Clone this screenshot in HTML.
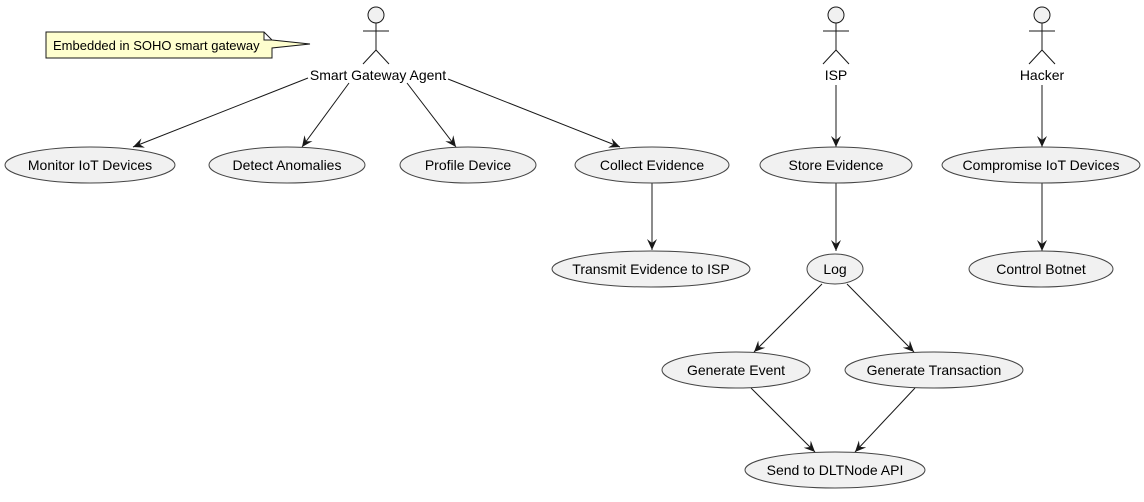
<!DOCTYPE html>
<html><head><meta charset="utf-8"><style>
html,body{margin:0;padding:0;background:#fff;}
text{font-family:"Liberation Sans",sans-serif;font-size:14px;fill:#000;}
</style></head><body>
<svg width="1144" height="497" viewBox="0 0 1144 497" xmlns="http://www.w3.org/2000/svg">
<defs>
<marker id="a" viewBox="0 0 12 10" refX="11" refY="5" markerWidth="12" markerHeight="10" markerUnits="userSpaceOnUse" orient="auto">
<path d="M0,0 L11,5 L0,10 L4,5 Z" fill="#181818"/>
</marker>
</defs>
<g fill="none" stroke="#181818" stroke-width="1">
<g transform="translate(376,0)"><circle cx="0" cy="15" r="8" fill="#f1f1f1"/><path d="M0,23 V50 M-13,31 H13 M0,50 L-13,64 M0,50 L13,64"/></g>
<g transform="translate(836,0)"><circle cx="0" cy="15" r="8" fill="#f1f1f1"/><path d="M0,23 V50 M-13,31 H13 M0,50 L-13,64 M0,50 L13,64"/></g>
<g transform="translate(1042,0)"><circle cx="0" cy="15" r="8" fill="#f1f1f1"/><path d="M0,23 V50 M-13,31 H13 M0,50 L-13,64 M0,50 L13,64"/></g>
<path d="M46,32 H264 L272,40 L310,44 L272,48 V58 H46 Z M264,32 V40 H272" fill="#fefece"/>
<path marker-end="url(#a)" d="M308,78 L133,147"/>
<path marker-end="url(#a)" d="M349,83 L302,147"/>
<path marker-end="url(#a)" d="M407,83 L456,147"/>
<path marker-end="url(#a)" d="M448,79 L620,147"/>
<path marker-end="url(#a)" d="M652,183 L652,250"/>
<path marker-end="url(#a)" d="M836,85 L836,147"/>
<path marker-end="url(#a)" d="M836,183 L836,251"/>
<path marker-end="url(#a)" d="M822,284 L754,352"/>
<path marker-end="url(#a)" d="M847,284 L914,352"/>
<path marker-end="url(#a)" d="M751,388 L815,452"/>
<path marker-end="url(#a)" d="M915,388 L855,452"/>
<path marker-end="url(#a)" d="M1042,85 L1042,147"/>
<path marker-end="url(#a)" d="M1042,183 L1042,251"/>
<g fill="#f1f1f1" stroke="#444">
<ellipse cx="90" cy="165" rx="85" ry="18"/>
<ellipse cx="287" cy="165" rx="78" ry="18"/>
<ellipse cx="468" cy="165" rx="68" ry="18"/>
<ellipse cx="652" cy="165" rx="77" ry="18"/>
<ellipse cx="651" cy="269" rx="99" ry="18"/>
<ellipse cx="836" cy="165" rx="76" ry="18"/>
<ellipse cx="835" cy="269" rx="28" ry="15"/>
<ellipse cx="736" cy="370" rx="74" ry="18"/>
<ellipse cx="934" cy="370" rx="89" ry="18"/>
<ellipse cx="835" cy="470" rx="90" ry="18"/>
<ellipse cx="1041" cy="165" rx="99" ry="18"/>
<ellipse cx="1041" cy="269" rx="72" ry="18"/>
</g>
</g>
<g text-anchor="middle">
<text x="378" y="80">Smart Gateway Agent</text>
<text x="836" y="80">ISP</text>
<text x="1042" y="80">Hacker</text>
<text x="90" y="170">Monitor IoT Devices</text>
<text x="287" y="170">Detect Anomalies</text>
<text x="468" y="170">Profile Device</text>
<text x="652" y="170">Collect Evidence</text>
<text x="651" y="274">Transmit Evidence to ISP</text>
<text x="836" y="170">Store Evidence</text>
<text x="835" y="274">Log</text>
<text x="736" y="375">Generate Event</text>
<text x="934" y="375">Generate Transaction</text>
<text x="835" y="475">Send to DLTNode API</text>
<text x="1041" y="170">Compromise IoT Devices</text>
<text x="1041" y="274">Control Botnet</text>
</g>
<text x="53" y="50" style="font-size:13px">Embedded in SOHO smart gateway</text>
</svg>
</body></html>
